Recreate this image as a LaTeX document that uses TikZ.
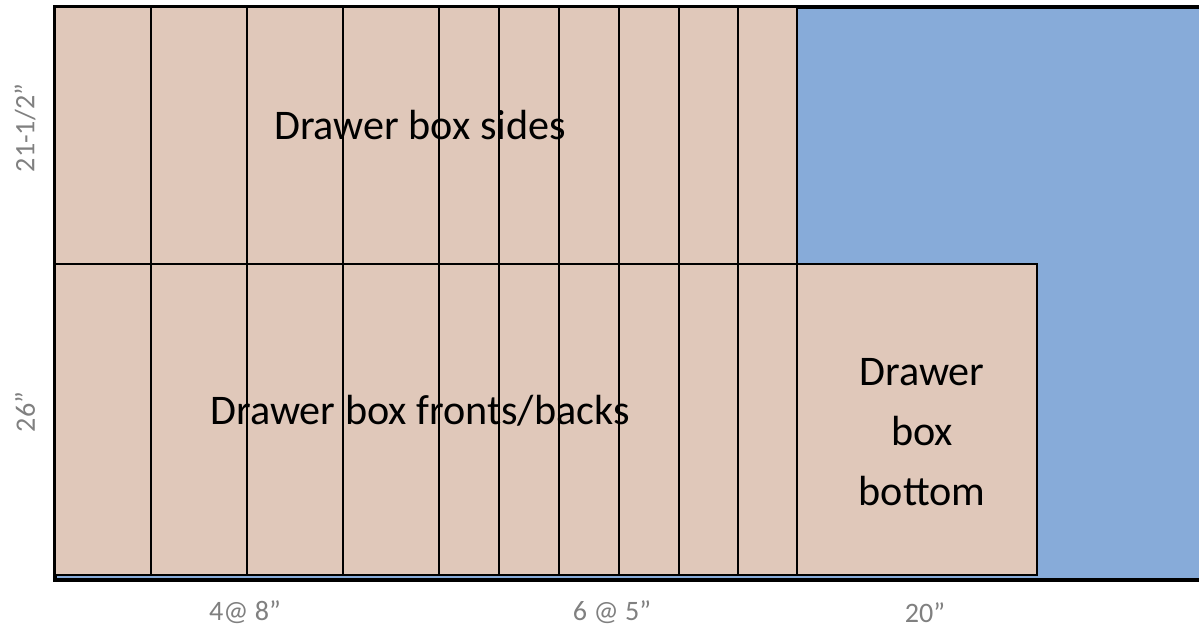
\documentclass[tikz,border=0pt]{standalone}
\usepackage{fontspec}
\setmainfont{Carlito}
\usepackage{tikz}
\usetikzlibrary{positioning}

\definecolor{ply}{HTML}{E0C8BA}
\definecolor{sheet}{HTML}{87ABD9}
\definecolor{dimgray}{HTML}{808080}

\begin{document}
\begin{tikzpicture}[x=0.02cm, y=-0.02cm, font=\fontsize{24}{34}\selectfont,
  piece/.style={fill=ply, draw=black, line width=1.6pt},
  dimlabel/.style={text=dimgray, font=\fontsize{16}{18}\selectfont}]

\useasboundingbox (0,0) rectangle (1199,630);

% the sheet
\fill[sheet] (55,7) rectangle (1199,580);
\draw[line width=1.8pt] (1199,7)--(55,7)--(55,580)--(1199,580);

% the strips
\foreach \a/\b in {55/151, 151/247, 247/343, 343/439, 439/499, 499/559, 559/619, 619/679, 679/738, 738/797}{
	\draw[piece] (\a,7) rectangle (\b,264);
	\draw[piece] (\a,264) rectangle (\b,575);
}
\draw[piece] (797,264) rectangle (1037,575);

\node(sides) at (420,125) {Drawer box sides};
\node(fronts) at (420,411) {Drawer box fronts/backs};
\node(bottom)[align=center] at (922,432) {Drawer\\box\\bottom};

\node(h1)[dimlabel, rotate=90] at (25,128) {21-1/2”};
\node(h2)[dimlabel, rotate=90] at (25,412) {26”};
\node(w1)[dimlabel] at (245,612) {4@ 8”};
\node(w2)[dimlabel] at (612,612) {6 @ 5”};
\node(w3)[dimlabel] at (925,613) {20”};

\end{tikzpicture}
\end{document}
